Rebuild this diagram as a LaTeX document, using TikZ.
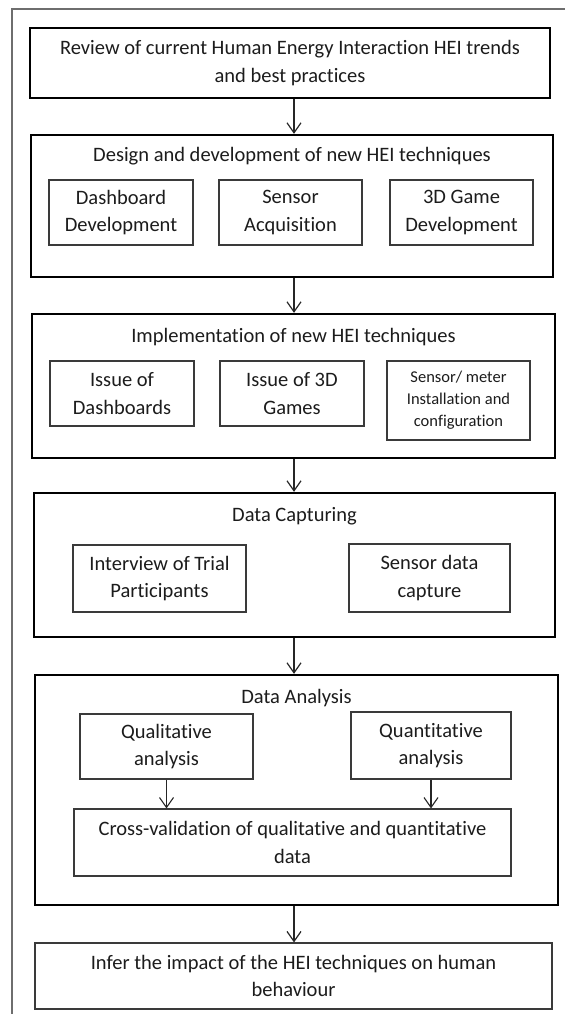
\documentclass[tikz,border=0pt]{standalone}
\usepackage{fontspec}
\setmainfont{Carlito}[Ligatures={NoCommon,NoRare,NoContextual}]
\usetikzlibrary{arrows.meta}
\definecolor{txt}{HTML}{1C1C1C}
\definecolor{subline}{HTML}{3A3A3A}
\definecolor{frameline}{HTML}{6E6E6E}
\begin{document}
\begin{tikzpicture}[x=1pt,y=-1pt,
  bigbox/.style={draw=black,line width=2.3pt,inner sep=0pt,text=txt,align=center,font=\fontsize{20.5}{27.5}\selectfont},
  subbox/.style={draw=subline,line width=1.1pt,inner sep=0pt,text=txt,align=center,font=\fontsize{20.5}{27.5}\selectfont},
  smallbox/.style={draw=subline,line width=1.1pt,inner sep=0pt,text=txt,align=center,font=\fontsize{16.5}{22}\selectfont},
  titletext/.style={text=txt,inner sep=0pt,font=\fontsize{20.5}{27.5}\selectfont},
  arr/.style={draw=black!85,line width=1.2pt,-{Straight Barb[length=10pt,width=14pt,line width=1.2pt]}},
  subarr/.style={draw=black!85,line width=1.1pt,-{Straight Barb[length=10pt,width=14pt,line width=1.1pt]}}]
\useasboundingbox (0,0) rectangle (565,1014);
\fill[white] (0,0) rectangle (565,1014);
% outer frame (only left and top edges fall inside the picture)
\coordinate (fbl) at (12,1014);
\coordinate (ftl) at (12,9);
\coordinate (ftr) at (565,9);
\draw[frameline,line width=1.2pt] (fbl) -- (ftl) -- (ftr);
\coordinate (ax) at (294,0);

% box 1
\node[bigbox,minimum width=520pt,minimum height=70pt] (b1) at (290,63)
  {Review of current Human Energy Interaction HEI trends\\and best practices};

% box 2
\node[bigbox,minimum width=522pt,minimum height=142pt] (b2) at (292,206) {};
\node[titletext] (t2) at (292,156) {Design and development of new HEI techniques};
\node[subbox,minimum width=144pt,minimum height=65pt] (s21) at (121,212.5) {Dashboard\\Development};
\node[subbox,minimum width=143pt,minimum height=65pt] (s22) at (290.5,212.5) {Sensor\\Acquisition};
\node[subbox,minimum width=143pt,minimum height=65pt] (s23) at (461.5,212.5) {3D Game\\Development};

% box 3
\node[bigbox,minimum width=523pt,minimum height=144pt] (b3) at (293.5,386) {};
\node[titletext] (t3) at (293.5,337) {Implementation of new HEI techniques};
\node[subbox,minimum width=144pt,minimum height=65pt] (s31) at (122,393.5) {Issue of\\Dashboards};
\node[subbox,minimum width=144pt,minimum height=65pt] (s32) at (292,393.5) {Issue of 3D\\Games};
\node[smallbox,minimum width=143pt,minimum height=79pt] (s33) at (458.5,400.5) {Sensor/ meter\\Installation and\\configuration};

% box 4
\node[bigbox,minimum width=521pt,minimum height=144pt] (b4) at (294.5,565) {};
\node[titletext] (t4) at (294.5,516) {Data Capturing};
\node[subbox,minimum width=173pt,minimum height=67pt] (s41) at (159.5,578.5) {Interview of Trial\\Participants};
\node[subbox,minimum width=161pt,minimum height=68pt] (s42) at (429.5,578) {Sensor data\\capture};

% box 5
\node[bigbox,minimum width=523pt,minimum height=230pt] (b5) at (296.5,790) {};
\node[titletext] (t5) at (296.5,698) {Data Analysis};
\node[subbox,minimum width=173pt,minimum height=65pt] (q1) at (166.5,746.5) {Qualitative\\analysis};
\node[subbox,minimum width=160pt,minimum height=67pt] (q2) at (431,745.5) {Quantitative\\analysis};
\node[subbox,minimum width=437pt,minimum height=67pt] (cv) at (292.5,842.5) {Cross-validation of qualitative and quantitative\\data};

% box 6
\node[subbox,minimum width=517pt,minimum height=66pt] (b6) at (293.5,976)
  {Infer the impact of the HEI techniques on human\\behaviour};

% connectors
\draw[arr] (b1.south -| ax) -- (b2.north -| ax);
\draw[arr] (b2.south -| ax) -- (b3.north -| ax);
\draw[arr] (b3.south -| ax) -- (b4.north -| ax);
\draw[arr] (b4.south -| ax) -- (b5.north -| ax);
\draw[arr] (b5.south -| ax) -- (b6.north -| ax);
\draw[subarr] (q1.south) -- (q1.south |- cv.north);
\draw[subarr] (q2.south) -- (q2.south |- cv.north);
\end{tikzpicture}
\end{document}
